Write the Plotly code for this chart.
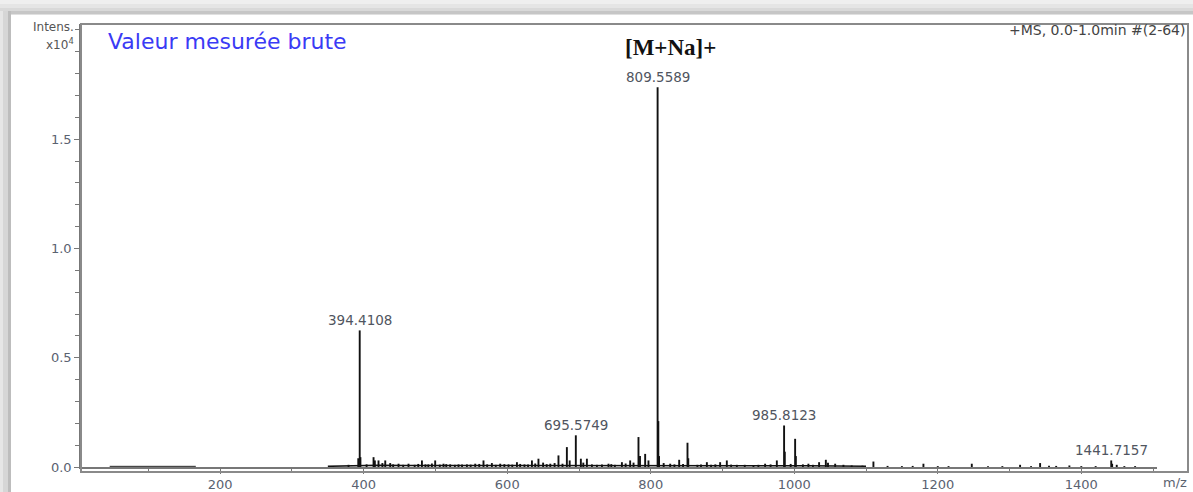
import plotly.graph_objects as go

# ---------------- data (m/z, intensity x10^4) ----------------
peak_mz = [378.8, 392.4, 394.4108, 395.4, 413.7, 415.5, 420.6, 430.0, 436.9, 448.5,
           462.4, 471.0, 481.1, 490.0, 499.6, 511.2, 520.5, 532.1, 543.8, 555.4,
           566.9, 578.6, 590.2, 601.8, 613.5, 624.0, 634.4, 643.5, 650.0, 660.0,
           671.4, 683.1, 687.0, 695.5749, 702.6, 711.0, 718.0, 725.0, 741.1, 750.0,
           759.8, 771.3, 782.9, 785.0, 792.2, 796.8, 809.5589, 810.56, 811.6, 827.1,
           839.6, 851.2, 852.3, 865.0, 878.2, 896.7, 906.0, 920.0, 931.0, 943.1,
           959.4, 975.7, 985.8123, 986.8, 1001.2, 1002.2, 1019.7, 1034.6, 1044.0, 1047.0,
           1057.0, 1068.5, 1080.0, 1095.0, 1110.3, 1130.0, 1150.0, 1165.0, 1180.0, 1200.0,
           1215.0, 1247.4, 1270.0, 1290.0, 1314.7, 1330.0, 1342.6, 1355.0, 1365.0, 1383.4,
           1400.0, 1420.0, 1441.7157, 1443.0, 1449.4, 1460.0, 1475.0,
           404.0, 426.0, 441.0, 455.0, 476.0, 486.0, 495.0, 506.0, 515.0, 527.0,
           537.0, 549.0, 561.0, 572.0, 584.0, 596.0, 607.0, 618.0, 629.0, 639.0,
           655.0, 666.0, 677.0, 706.0, 732.0, 745.0, 765.0, 776.0, 818.0, 833.0,
           845.0, 870.0, 884.0, 890.0, 912.0, 950.0, 967.0, 995.0, 1012.0, 1026.0]
peak_int = [0.010, 0.040, 0.625, 0.045, 0.045, 0.030, 0.030, 0.030, 0.018, 0.015,
            0.015, 0.010, 0.030, 0.012, 0.030, 0.015, 0.012, 0.012, 0.012, 0.015,
            0.030, 0.018, 0.015, 0.012, 0.022, 0.012, 0.030, 0.038, 0.020, 0.015,
            0.053, 0.091, 0.030, 0.145, 0.038, 0.038, 0.012, 0.010, 0.015, 0.010,
            0.022, 0.030, 0.137, 0.050, 0.060, 0.030, 1.738, 0.210, 0.050, 0.015,
            0.033, 0.111, 0.040, 0.010, 0.022, 0.022, 0.030, 0.010, 0.010, 0.007,
            0.015, 0.030, 0.190, 0.070, 0.129, 0.050, 0.015, 0.022, 0.033, 0.020,
            0.015, 0.010, 0.007, 0.006, 0.025, 0.005, 0.004, 0.005, 0.015, 0.004,
            0.004, 0.015, 0.004, 0.004, 0.010, 0.004, 0.018, 0.006, 0.005, 0.007,
            0.004, 0.004, 0.030, 0.015, 0.010, 0.004, 0.004,
            0.012, 0.018, 0.012, 0.010, 0.014, 0.012, 0.016, 0.011, 0.013, 0.010,
            0.012, 0.011, 0.014, 0.012, 0.010, 0.013, 0.011, 0.014, 0.012, 0.016,
            0.013, 0.018, 0.015, 0.020, 0.012, 0.013, 0.016, 0.020, 0.018, 0.012,
            0.014, 0.012, 0.010, 0.012, 0.011, 0.010, 0.012, 0.014, 0.012, 0.010]

# flat low-mass trace and noise floor of the spectrum
low_mz = [46, 100, 166]
low_int = [0.003, 0.003, 0.003]
floor_mz = [350, 380, 420, 460, 500, 540, 580, 620, 660, 700, 740, 780, 820, 860,
            900, 940, 980, 1020, 1060, 1100]
floor_int = [0.003, 0.006, 0.008, 0.007, 0.007, 0.006, 0.007, 0.007, 0.008, 0.009,
             0.007, 0.008, 0.007, 0.007, 0.006, 0.006, 0.007, 0.006, 0.005, 0.004]

label_mz = [394.4108, 695.5749, 809.5589, 985.8123, 1441.7157]
label_int = [0.625, 0.145, 1.738, 0.190, 0.030]
label_text = ["394.4108", "695.5749", "809.5589", "985.8123", "1441.7157"]

x_major = [200, 400, 600, 800, 1000, 1200, 1400]
y_major = [0.0, 0.5, 1.0, 1.5]
y_major_text = ["0.0", "0.5", "1.0", "1.5"]

# ---------------- layout geometry (pixels) ----------------
W, H = 1193, 492
L, R, T, B = 81, 36, 24, 25
PW, PH = W - L - R, H - T - B


def xp(px):
    return (px - L) / PW


def yp(py):
    return (H - B - py) / PH


# stick representation of the peaks
sx, sy = [], []
for m, v in zip(peak_mz, peak_int):
    sx += [m, m, None]
    sy += [0, v, None]

fig = go.Figure()
fig.add_trace(go.Scatter(x=low_mz, y=low_int, mode="lines",
                         line=dict(color="#222", width=1), hoverinfo="skip"))
fig.add_trace(go.Scatter(x=floor_mz, y=floor_int, mode="lines",
                         line=dict(color="#111", width=1.5), hoverinfo="skip"))
fig.add_trace(go.Scatter(x=sx, y=sy, mode="lines",
                         line=dict(color="#111", width=1.9), hoverinfo="skip"))

ann = []
for m, v, t in zip(label_mz, label_int, label_text):
    ann.append(dict(x=m, y=v, xref="x", yref="y", text=t, showarrow=False,
                    yanchor="bottom", yshift=0,
                    font=dict(family="DejaVu Sans", size=13.5, color="#505560")))

ann += [
    dict(x=xp(106), y=yp(42), xref="paper", yref="paper", text="Valeur mesurée brute",
         showarrow=False, xanchor="left", yanchor="middle",
         font=dict(family="DejaVu Sans", size=22, color="#3a3af5")),
    dict(x=xp(1187), y=yp(30), xref="paper", yref="paper", text="+MS, 0.0-1.0min #(2-64)",
         showarrow=False, xanchor="right", yanchor="middle",
         font=dict(family="DejaVu Sans", size=14, color="#444")),
    dict(x=xp(670), y=yp(47), xref="paper", yref="paper", text="<b>[M+Na]+</b>",
         showarrow=False, xanchor="center", yanchor="middle",
         font=dict(family="Liberation Serif", size=23, color="#111")),
    dict(x=xp(76), y=yp(27), xref="paper", yref="paper", text="Intens.",
         showarrow=False, xanchor="right", yanchor="middle",
         font=dict(family="DejaVu Sans", size=12, color="#555")),
    dict(x=xp(76), y=yp(44), xref="paper", yref="paper", text="x10<sup>4</sup>",
         showarrow=False, xanchor="right", yanchor="middle",
         font=dict(family="DejaVu Sans", size=12, color="#555")),
    dict(x=xp(1175), y=yp(482), xref="paper", yref="paper", text="m/z",
         showarrow=False, xanchor="center", yanchor="middle",
         font=dict(family="DejaVu Sans", size=13, color="#5a6270")),
]

shapes = []
# outer picture frame (grey bands top and left)
for (y0, y1, c) in [(0, 4, "#efefef"), (4, 8, "#e5e5e5"), (8, 11, "#d9d9d9"),
                    (11, 14, "#c6c6c6"), (14, 15, "#e0e0e0")]:
    shapes.append(dict(type="rect", xref="paper", yref="paper", x0=xp(0), x1=xp(W),
                       y0=yp(y1), y1=yp(y0), fillcolor=c, line=dict(width=0), layer="below"))
for (x0, x1, c) in [(0, 3, "#e6e6e6"), (3, 8, "#d6d6d6"), (8, 11, "#bdbdbd")]:
    shapes.append(dict(type="rect", xref="paper", yref="paper", x0=xp(x0), x1=xp(x1),
                       y0=yp(H), y1=yp(11), fillcolor=c, line=dict(width=0), layer="below"))
# plot box
shapes.append(dict(type="rect", xref="paper", yref="paper", x0=xp(81), x1=xp(1188),
                   y0=yp(472), y1=yp(24), line=dict(color="#8a8a8a", width=2),
                   fillcolor="rgba(0,0,0,0)", layer="above"))

fig.update_layout(
    width=W, height=H, autosize=False,
    margin=dict(l=L, r=R, t=T, b=B, pad=0, autoexpand=False),
    paper_bgcolor="white", plot_bgcolor="white",
    showlegend=False,
    annotations=ann, shapes=shapes,
    xaxis=dict(range=[6, 1505.5], tickmode="array", tickvals=x_major,
               ticktext=[str(v) for v in x_major], automargin=False,
               showline=True, linecolor="#777", linewidth=1.5, mirror=False,
               ticks="outside", ticklen=5, tickcolor="#777", tickwidth=1,
               showgrid=False, zeroline=False,
               tickfont=dict(family="DejaVu Sans", size=13, color="#5a6270"),
               minor=dict(dtick=100, tick0=0, ticks="outside", ticklen=4,
                          tickcolor="#777", showgrid=False)),
    yaxis=dict(range=[0, 2.027], tickmode="array", tickvals=y_major,
               ticktext=y_major_text, automargin=False,
               showline=True, linecolor="#777", linewidth=1.5,
               ticks="outside", ticklen=5, tickcolor="#777", tickwidth=1,
               showgrid=False, zeroline=False,
               tickfont=dict(family="DejaVu Sans", size=13, color="#5a6270"),
               minor=dict(dtick=0.1, tick0=0, ticks="outside", ticklen=4,
                          tickcolor="#777", showgrid=False)),
)

fig.write_html("out.html")
